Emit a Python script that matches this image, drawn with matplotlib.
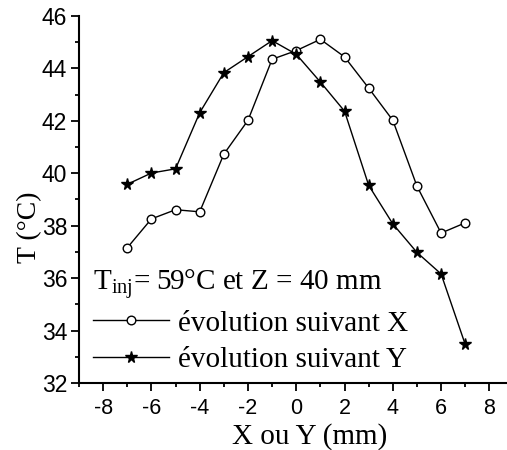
import matplotlib
matplotlib.use("Agg")
import matplotlib.pyplot as plt
from matplotlib.ticker import MultipleLocator

plt.rcParams["mathtext.fontset"] = "custom"
plt.rcParams["mathtext.rm"] = "Liberation Serif"
plt.rcParams["mathtext.it"] = "Liberation Serif:italic"

# Position along the scan (mm)
positions = [-7, -6, -5, -4, -3, -2, -1, 0, 1, 2, 3, 4, 5, 6, 7]
# Temperature profile along X (°C)
temp_x = [37.16, 38.26, 38.61, 38.53, 40.73, 42.02, 44.35, 44.68,
          45.11, 44.44, 43.25, 42.02, 39.51, 37.72, 38.11]
# Temperature profile along Y (°C)
temp_y = [39.58, 40.01, 40.17, 42.31, 43.84, 44.45, 45.06, 44.54,
          43.48, 42.37, 39.54, 38.07, 36.98, 36.16, 33.47]

x_ticks = [-8, -6, -4, -2, 0, 2, 4, 6, 8]
y_ticks = [32, 34, 36, 38, 40, 42, 44, 46]

fig = plt.figure(figsize=(5.07, 4.5), dpi=100)
ax = fig.add_axes([79 / 507, 1 - 383 / 450, 428 / 507, 367 / 450])

ax.plot(positions, temp_x, color="black", lw=1.0, marker="o", ms=6.2,
        mfc="white", mec="black", mew=1.0, label="évolution suivant X")
ax.plot(positions, temp_y, color="black", lw=1.0, marker="*", ms=8.5,
        mfc="black", mec="black", label="évolution suivant Y")

ax.set_xlim(-9, 8.73)
ax.set_ylim(32, 46)
ax.set_xticks(x_ticks)
ax.set_yticks(y_ticks)
ax.set_xticklabels([str(v) for v in x_ticks])
ax.set_yticklabels([str(v) for v in y_ticks])
ax.xaxis.set_minor_locator(MultipleLocator(1))
ax.yaxis.set_minor_locator(MultipleLocator(1))

for side in ("top", "right"):
    ax.spines[side].set_visible(False)
for side in ("left", "bottom"):
    ax.spines[side].set_linewidth(1.5)

ax.tick_params(which="major", direction="out", length=5.5, width=1.3)
ax.tick_params(which="minor", direction="out", length=3.2, width=1.3)
ax.tick_params(axis="y", which="major", labelsize=16.5, pad=3)
ax.tick_params(axis="x", which="major", labelsize=15.5, pad=5)
for lab in ax.get_xticklabels() + ax.get_yticklabels():
    lab.set_fontfamily("Liberation Sans")

ax.set_xlabel("X ou Y (mm)", fontsize=21, family="Liberation Serif")
ax.set_ylabel("T (°C)", fontsize=20, family="Liberation Serif")
ax.xaxis.set_label_coords(0.54, -0.108)
ax.yaxis.set_label_coords(-0.087, 0.425)

leg = ax.legend(loc="lower left", bbox_to_anchor=(0.033, 0.028), frameon=False,
                prop={"family": "Liberation Serif", "size": 21},
                title=r"T$_{\rm inj}$= 59°C et Z = 40 mm",
                title_fontproperties={"family": "Liberation Serif", "size": 21},
                alignment="left", handlelength=2.6, handletextpad=0.3,
                labelspacing=0.33, borderpad=0.0, borderaxespad=0.0)
for h in leg.legend_handles:
    h.set_linewidth(1.0)

fig.savefig("out.png", dpi=100)
